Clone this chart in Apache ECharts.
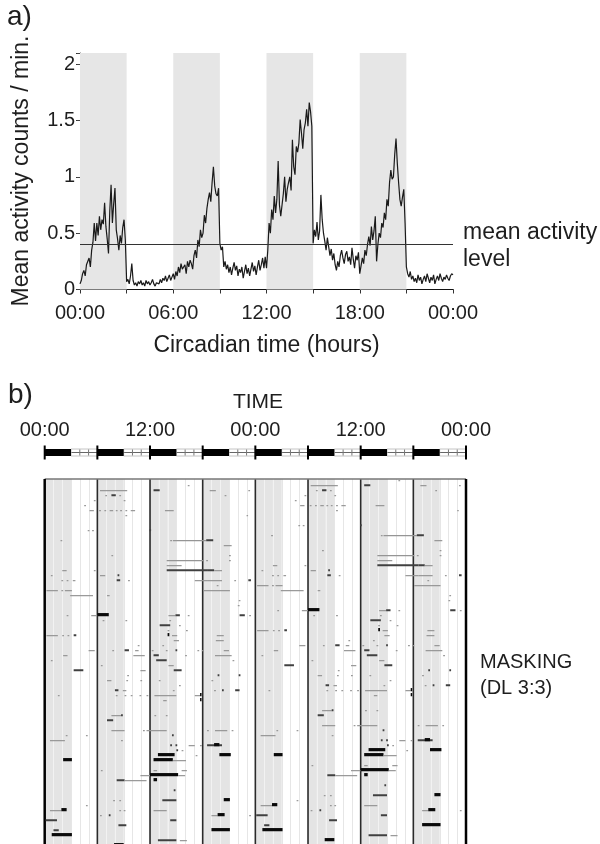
<!DOCTYPE html>
<html><head><meta charset="utf-8">
<script src="https://cdn.jsdelivr.net/npm/echarts@6/dist/echarts.min.js"></script>
<style>html,body{margin:0;padding:0;background:#fff}#c{width:600px;height:844px}</style>
</head><body><div id="c"></div>
<script>
// ---------- data ----------
const hourLabelsA = ['00:00','06:00','12:00','18:00','00:00'];
const hourLabelsB = ['00:00','12:00','00:00','12:00','00:00'];
const yTicksA = [0, 0.5, 1, 1.5, 2];
const darkStartsA = [0, 6, 12, 18];          // dark phase starts (h), panel a
const darkStartsB = [0, 6, 12, 18, 24, 30, 36, 42]; // dark phase starts (h), panel b
const darkLen = 3;
const meanLevel = 0.4;
const stepMin = 5; // activity sampled every 5 min from 00:00 to 24:00
const activity = [
 0.05,0.08,0.14,0.17,0.12,0.22,0.23,0.28,0.20,0.35,0.42,0.59,
 0.43,0.59,0.48,0.65,0.53,0.62,0.58,0.77,0.56,0.45,0.32,0.70,
 0.93,0.59,0.76,0.90,0.53,0.45,0.35,0.48,0.41,0.55,0.62,0.44,
 0.07,0.09,0.05,0.12,0.23,0.08,0.04,0.06,0.03,0.07,0.05,0.08,
 0.04,0.06,0.03,0.08,0.05,0.07,0.04,0.06,0.09,0.05,0.03,0.06,
 0.07,0.05,0.09,0.06,0.10,0.08,0.12,0.07,0.10,0.13,0.08,0.11,
 0.14,0.09,0.16,0.12,0.20,0.15,0.23,0.18,0.17,0.22,0.14,0.25,
 0.20,0.26,0.23,0.18,0.30,0.35,0.28,0.44,0.38,0.53,0.46,0.50,
 0.66,0.59,0.72,0.80,0.86,0.78,0.95,1.09,0.92,0.85,0.83,0.90,
 0.41,0.35,0.38,0.20,0.25,0.18,0.22,0.15,0.20,0.13,0.19,0.24,
 0.17,0.21,0.12,0.18,0.15,0.20,0.10,0.16,0.22,0.14,0.19,0.12,
 0.18,0.24,0.16,0.21,0.13,0.20,0.26,0.17,0.22,0.28,0.19,0.29,
 0.19,0.35,0.59,0.50,0.71,0.62,0.83,0.68,0.80,1.14,0.75,0.65,
 0.65,0.85,1.00,0.78,0.89,0.95,1.00,0.88,1.33,1.09,1.02,1.27,
 1.22,1.30,1.51,1.39,1.25,1.42,1.48,1.60,1.45,1.66,1.58,1.45,
 0.41,0.53,0.47,0.60,0.44,0.52,0.84,0.62,0.50,0.43,0.35,0.46,
 0.38,0.30,0.36,0.26,0.32,0.22,0.17,0.25,0.20,0.30,0.35,0.28,
 0.23,0.31,0.34,0.25,0.29,0.22,0.37,0.27,0.19,0.30,0.26,0.33,
 0.14,0.21,0.28,0.23,0.35,0.30,0.40,0.47,0.39,0.56,0.44,0.52,
 0.65,0.25,0.40,0.50,0.46,0.59,0.55,0.68,0.62,0.80,0.74,0.95,
 1.06,0.98,1.00,1.20,1.34,1.12,0.95,0.80,0.74,0.82,0.89,0.59,
 0.20,0.14,0.11,0.16,0.09,0.12,0.07,0.10,0.06,0.13,0.08,0.11,
 0.05,0.09,0.12,0.07,0.14,0.10,0.06,0.11,0.08,0.13,0.05,0.09,
 0.12,0.08,0.14,0.10,0.07,0.11,0.09,0.13,0.10,0.08,0.12,0.14,
 0.13
];
// actogram: number of day rows, marks [day, startHour, endHour, level(1 faint,2 dark,3 black)]
const actoDays = 74;
const actoMarks = [
 [1,16.3,16.5,1],
 [2,6.3,9.4,1],[2,12.4,13.1,2],[2,18.8,19.5,1],[2,23.2,23.4,1],
 [3,6.9,7.1,1],[3,7.6,8.1,2],[3,8.5,8.7,1],[3,20.5,20.7,1],
 [4,5.6,5.8,1],[4,9.0,9.2,1],
 [5,4.5,4.7,1],
 [6,5.1,5.6,1],[6,6.2,6.4,1],[6,6.8,7.0,1],[6,7.4,7.8,1],[6,8.1,8.3,1],[6,8.6,8.8,1],[6,9.2,9.4,1],[6,9.8,10.3,1],[6,13.7,14.7,1],
 [7,9.2,9.4,1],[7,23.0,23.1,1],
 [10,4.9,5.1,1],[10,5.4,5.6,1],[10,11.95,12.05,2],
 [12,1.8,2.0,1],[12,14.3,14.5,1],[12,14.6,18.4,1],[12,18.4,19.2,2],
 [13,20.4,21.3,1],
 [15,7.6,7.8,1],[15,21.0,21.2,1],
 [16,13.9,18.1,1],[16,18.4,18.6,1],[16,21.0,21.2,1],
 [17,13.9,15.6,1],
 [18,2.0,2.5,1],[18,5.6,5.8,1],[18,13.9,18.6,2],[18,18.6,19.3,2],[18,19.3,20.2,1],
 [19,0.7,0.9,1],[19,6.3,6.9,1],[19,8.3,8.5,2],
 [20,1.9,2.1,1],[20,2.5,2.7,1],[20,3.2,3.5,1],[20,8.2,8.6,2],[20,9.5,9.7,1],[20,17.1,18.6,1],[20,18.6,20.2,1],[20,21.6,21.8,1],[20,23.2,23.5,2],
 [21,19.6,19.8,1],
 [22,0.2,1.5,1],[22,1.9,2.1,1],[22,2.3,3.1,1],[22,18.1,21.1,1],
 [23,2.9,5.5,1],[23,7.1,7.4,1],
 [24,22.1,22.3,1],
 [25,22.0,22.2,1],
 [27,2.5,2.7,1],[27,5.3,6.0,1],[27,6.0,7.3,3],[27,14.1,14.9,1],[27,14.9,15.4,2],[27,16.3,16.5,1],[27,22.2,22.8,2],[27,23.3,23.5,1],
 [28,6.6,6.8,1],[28,9.2,9.4,1],[28,14.2,14.4,1],
 [29,13.1,14.3,2],[29,15.3,15.5,1],
 [30,14.0,14.2,1],[30,16.1,16.3,1],
 [31,0.2,1.5,1],[31,2.0,2.2,1],[31,2.6,2.8,1],[31,3.3,3.6,2],[31,14.0,14.2,3],[31,14.5,15.1,1],[31,19.6,20.4,1],
 [32,14.7,15.3,1],[32,19.5,20.4,1],
 [33,10.6,10.8,1],[33,13.4,13.6,1],
 [34,5.0,5.7,1],[34,7.7,7.9,1],[34,9.1,9.6,2],[34,10.3,10.7,1],[34,12.2,12.4,1],[34,13.8,14.0,1],[34,14.9,15.1,2],[34,17.4,17.6,1],[34,17.9,18.1,1],[34,20.4,21.0,1],
 [35,2.1,2.6,1],[35,10.1,11.4,1],[35,12.4,13.0,2],[35,16.0,16.2,1],[35,19.4,21.3,1],
 [36,0.7,0.9,1],[36,12.7,13.9,2],[36,21.4,21.6,1],
 [37,6.4,6.6,1],[37,14.1,14.7,1],
 [38,3.3,4.4,2],[38,10.9,11.5,1],[38,14.7,15.6,2],
 [39,9.4,9.6,1],[39,19.7,19.9,2],[39,22.1,22.3,2],
 [40,7.1,7.6,1],[40,9.3,9.5,1],[40,10.9,11.1,1],[40,13.0,13.2,1],[40,19.0,19.2,1],
 [41,15.3,15.5,1],
 [42,8.0,8.4,2],[42,8.9,9.3,1],[42,14.6,14.8,1],[42,19.3,19.5,1],[42,20.2,20.4,2],[42,21.7,22.2,2],
 [43,1.5,1.7,1],[43,8.1,8.3,1],[43,9.1,9.3,1],[43,9.8,10.0,1],[43,10.8,11.0,1],[43,11.6,11.8,1],[43,12.5,15.0,1],[43,17.1,17.7,1],[43,17.7,17.85,3],
 [44,13.5,13.9,1],[44,17.7,17.85,3],
 [47,7.6,8.7,1],[47,8.7,8.9,2],[47,12.5,12.7,1],[47,13.8,14.0,1],
 [48,7.1,7.8,2],
 [50,7.6,9.1,1],[50,11.2,11.4,1],[50,11.6,13.9,1],[50,18.5,18.7,1],[50,19.4,20.8,1],[50,21.3,21.5,1],
 [51,2.4,2.6,1],[51,4.7,4.9,1],[51,14.5,14.7,2],
 [52,0.6,2.3,1],[52,8.7,8.9,1],
 [53,14.3,14.5,2],[53,14.9,15.1,2],[53,16.4,17.1,1],[53,17.7,17.9,1],[53,18.5,20.2,2],[53,19.3,19.9,3],
 [54,15.0,15.2,2],[54,15.6,15.8,1],
 [55,12.9,14.8,3],[55,17.2,17.4,1],[55,19.9,21.2,3],
 [56,2.1,3.1,3],[56,12.4,14.6,3],[56,14.6,16.1,1],
 [58,6.4,6.6,1],[58,12.4,12.8,1],[58,15.6,16.2,1],
 [59,10.9,12.0,1],[59,12.0,15.2,3],[59,15.2,16.0,1],
 [60,8.2,9.1,2],[60,9.1,11.6,1],[60,12.4,12.8,3],
 [62,14.7,14.9,2],
 [64,7.8,8.0,1],[64,8.5,8.7,1],[64,13.4,15.0,2],[64,20.4,21.1,3],
 [65,4.7,4.9,1],
 [66,0.6,1.9,1],[66,1.9,2.5,3],[66,8.5,8.7,1],[66,9.0,9.2,1],[66,12.4,13.9,1],
 [67,6.3,6.5,1],[67,7.3,7.5,2],[67,19.0,19.7,1],[67,19.7,20.5,3],[67,23.3,23.5,1],
 [68,0.1,1.4,2],[68,14.3,15.0,2],
 [69,8.4,9.3,2],
 [70,1.0,1.6,2],[70,19.0,21.1,3],
 [71,0.8,3.1,3],
 [72,12.9,15.0,2],[72,15.4,16.2,1],
 [73,7.9,9.0,3]
];

// ---------- build ----------
const FONT = 'Liberation Sans, Arial, sans-serif';
const TXT = '#1e1e1e';
const lineData = activity.map((v, i) => [i * stepMin / 60, v]);
const bandsA = darkStartsA.map(s => [{xAxis: s}, {xAxis: s + darkLen}]);

const actoItems = [];
actoMarks.forEach(([d, s, e, l]) => {
  if (d < actoDays) actoItems.push([s, e, d, l]);        // left half: the day itself
  if (d >= 1) actoItems.push([s + 24, e + 24, d - 1, l]); // right half: double plot
});
const lvlH = {1: 1.2, 2: 2.0, 3: 3.2};
const lvlC = {1: '#959595', 2: '#404040', 3: '#0a0a0a'};

function isDark(h) { return darkStartsB.some(s => h >= s && h < s + darkLen); }

function renderTimebar(params, api) {
  const ch = [];
  const yMid = api.coord([0, 0.5])[1];
  const xL = api.coord([0, 0])[0], xR = api.coord([48, 0])[0];
  ch.push({type: 'line', shape: {x1: xL, y1: yMid, x2: xR, y2: yMid}, style: {stroke: '#666', lineWidth: 1}});
  darkStartsB.forEach(s => {
    const x0 = api.coord([s, 0])[0], x1 = api.coord([s + darkLen, 0])[0], x2 = api.coord([s + 6, 0])[0];
    ch.push({type: 'rect', shape: {x: x1, y: yMid - 3.5, width: x2 - x1, height: 7}, style: {fill: 'none', stroke: '#c4c4c4', lineWidth: 1}});
    ch.push({type: 'rect', shape: {x: x0, y: yMid - 3.5, width: x1 - x0, height: 7}, style: {fill: '#000'}});
    for (let k = 1; k < 3; k++) {
      const xt = api.coord([s + darkLen + k, 0])[0];
      ch.push({type: 'line', shape: {x1: xt, y1: yMid - 3, x2: xt, y2: yMid + 3}, style: {stroke: '#777', lineWidth: 1}});
    }
    ch.push({type: 'line', shape: {x1: x0, y1: yMid - 7, x2: x0, y2: yMid + 7}, style: {stroke: '#000', lineWidth: 2}});
  });
  ch.push({type: 'line', shape: {x1: xR, y1: yMid - 7, x2: xR, y2: yMid + 7}, style: {stroke: '#000', lineWidth: 2}});
  return {type: 'group', children: ch};
}

function renderActoBg(params, api) {
  const ch = [];
  const yT = api.coord([0, 0])[1], yB = api.coord([0, actoDays])[1];
  const xL = api.coord([0, 0])[0], xR = api.coord([48, 0])[0];
  for (let h = 0; h < 48; h++) {
    if (isDark(h)) {
      const x0 = api.coord([h, 0])[0], x1 = api.coord([h + 1, 0])[0];
      ch.push({type: 'rect', shape: {x: x0, y: yT, width: x1 - x0, height: yB - yT}, style: {fill: '#e4e4e4'}});
    }
  }
  for (let h = 1; h < 48; h++) {
    if (h % 6 === 0) continue;
    const x = Math.round(api.coord([h, 0])[0]) + 0.5;
    ch.push({type: 'line', shape: {x1: x, y1: yT, x2: x, y2: yB}, style: {stroke: isDark(h) ? '#f2f2f2' : '#e6e6e6', lineWidth: 1}});
  }
  for (let h = 6; h < 48; h += 6) {
    const x = api.coord([h, 0])[0];
    ch.push({type: 'line', shape: {x1: x, y1: yT, x2: x, y2: yB}, style: {stroke: '#2a2a2a', lineWidth: 1.6}});
  }
  ch.push({type: 'line', shape: {x1: xL, y1: yT, x2: xR, y2: yT}, style: {stroke: '#777', lineWidth: 1.5}});
  ch.push({type: 'line', shape: {x1: xL, y1: yT, x2: xL, y2: yB}, style: {stroke: '#000', lineWidth: 2.5}});
  ch.push({type: 'line', shape: {x1: xR, y1: yT, x2: xR, y2: yB}, style: {stroke: '#000', lineWidth: 2.5}});
  return {type: 'group', children: ch};
}

function renderMark(params, api) {
  const l = api.value(3);
  const p0 = api.coord([api.value(0), api.value(2) + 0.45]);
  const p1 = api.coord([api.value(1), api.value(2) + 0.45]);
  const h = lvlH[l];
  return {type: 'rect', shape: {x: p0[0], y: p0[1] - h, width: Math.max(1.5, p1[0] - p0[0]), height: h}, style: {fill: lvlC[l]}};
}

const chart = echarts.init(document.getElementById('c'), null, {renderer: 'canvas'});
chart.setOption({
  animation: false,
  backgroundColor: '#fff',
  textStyle: {fontFamily: FONT, color: TXT},
  grid: [
    {left: 80, top: 53, width: 373, height: 236.5, outerBoundsMode: 'none', containLabel: false},
    {left: 44.7, top: 445, width: 421.3, height: 15, outerBoundsMode: 'none', containLabel: false},
    {left: 44.7, top: 479, width: 421.3, height: 370, outerBoundsMode: 'none', containLabel: false}
  ],
  xAxis: [
    {gridIndex: 0, type: 'value', min: 0, max: 24, interval: 3,
     axisLine: {show: true, lineStyle: {color: '#444', width: 1}},
     axisTick: {show: true, length: 4, lineStyle: {color: '#333'}},
     splitLine: {show: false},
     axisLabel: {fontSize: 20, color: TXT, fontFamily: FONT, margin: 14,
       formatter: v => (v % 6 === 0 ? hourLabelsA[v / 6] : '')},
     name: 'Circadian time (hours)', nameLocation: 'middle', nameGap: 45,
     nameTextStyle: {fontSize: 23, color: TXT, fontFamily: FONT}},
    {gridIndex: 0, type: 'value', min: 0, max: 24, position: 'top',
     axisLine: {show: true, lineStyle: {color: '#111', width: 1.2}},
     axisTick: {show: false}, axisLabel: {show: false}, splitLine: {show: false}},
    {gridIndex: 1, type: 'value', min: 0, max: 48, interval: 12, position: 'top',
     axisLine: {show: false}, axisTick: {show: false}, splitLine: {show: false},
     axisLabel: {fontSize: 20, color: TXT, fontFamily: FONT, margin: 5,
       formatter: v => hourLabelsB[v / 12]}},
    {gridIndex: 2, type: 'value', min: 0, max: 48, show: false}
  ],
  yAxis: [
    {gridIndex: 0, type: 'value', min: 0, max: 2.1, interval: 0.5,
     axisLine: {show: true, lineStyle: {color: '#555', width: 1}},
     axisTick: {show: true, length: 4, lineStyle: {color: '#333'}},
     splitLine: {show: false},
     axisLabel: {fontSize: 20, color: TXT, fontFamily: FONT, margin: 5,
       formatter: v => (yTicksA.includes(v) ? String(v) : '')}},
    {gridIndex: 0, type: 'value', min: 0, max: 2.1, interval: 0.5, position: 'right',
     axisLine: {show: false}, axisTick: {show: true, inside: true, length: 3, lineStyle: {color: '#444'}},
     axisLabel: {show: false}, splitLine: {show: false}},
    {gridIndex: 1, type: 'value', min: 0, max: 1, show: false},
    {gridIndex: 2, type: 'value', min: 0, max: actoDays, inverse: true, show: false}
  ],
  series: [
    {type: 'line', xAxisIndex: 0, yAxisIndex: 0, data: lineData, showSymbol: false, silent: true,
     lineStyle: {color: '#1a1a1a', width: 1.2}, z: 3,
     markArea: {silent: true, itemStyle: {color: '#e6e6e6'}, data: bandsA},
     markLine: {silent: true, symbol: 'none', label: {show: false},
       lineStyle: {color: '#333', width: 1, type: 'solid'}, data: [{yAxis: meanLevel}]}},
    {type: 'custom', xAxisIndex: 2, yAxisIndex: 2, data: [[0, 0]], renderItem: renderTimebar, silent: true},
    {type: 'custom', xAxisIndex: 3, yAxisIndex: 3, data: [[0, 0]], renderItem: renderActoBg, silent: true, z: 1},
    {type: 'custom', xAxisIndex: 3, yAxisIndex: 3, data: actoItems, encode: {x: [0, 1], y: 2},
     renderItem: renderMark, silent: true, z: 2, clip: true}
  ],
  graphic: [
    {type: 'text', left: 7, top: 3, style: {text: 'a)', fontSize: 28, fill: TXT, fontFamily: FONT}},
    {type: 'text', x: 22, y: 171, rotation: Math.PI / 2,
     style: {text: 'Mean activity counts / min.', fontSize: 23, fill: TXT, fontFamily: FONT, align: 'center', verticalAlign: 'middle'}},
    {type: 'text', x: 463, y: 233, style: {text: 'mean activity', fontSize: 23, fill: TXT, fontFamily: FONT, verticalAlign: 'middle'}},
    {type: 'text', x: 463, y: 260, style: {text: 'level', fontSize: 23, fill: TXT, fontFamily: FONT, verticalAlign: 'middle'}},
    {type: 'text', left: 8, top: 381, style: {text: 'b)', fontSize: 28, fill: TXT, fontFamily: FONT}},
    {type: 'text', x: 258, y: 402, style: {text: 'TIME', fontSize: 21, fill: TXT, fontFamily: FONT, align: 'center', verticalAlign: 'middle'}},
    {type: 'text', x: 480, y: 662, style: {text: 'MASKING', fontSize: 20, fill: TXT, fontFamily: FONT, verticalAlign: 'middle'}},
    {type: 'text', x: 480, y: 688, style: {text: '(DL 3:3)', fontSize: 20, fill: TXT, fontFamily: FONT, verticalAlign: 'middle'}}
  ]
});
</script>
</body></html>
